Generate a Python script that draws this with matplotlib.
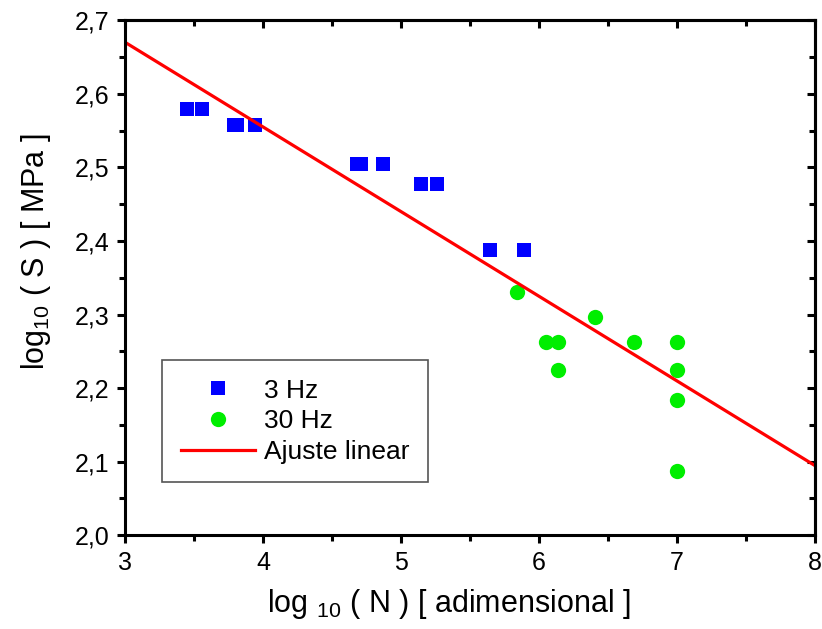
import matplotlib
matplotlib.use("Agg")
import matplotlib.pyplot as plt
from matplotlib.ticker import FuncFormatter, MultipleLocator

plt.rcParams['font.family'] = ['Liberation Sans', 'DejaVu Sans']
plt.rcParams['mathtext.fontset'] = 'custom'
plt.rcParams['mathtext.rm'] = 'Liberation Sans'
plt.rcParams['mathtext.it'] = 'Liberation Sans'

# data
hz3_x = [3.45, 3.56, 3.79, 3.81, 3.94, 4.685, 4.71, 4.87, 5.15, 5.26, 5.65, 5.89]
hz3_y = [2.579, 2.579, 2.557, 2.557, 2.557, 2.505, 2.505, 2.505, 2.477, 2.477, 2.388, 2.388]

hz30_x = [5.84, 6.05, 6.14, 6.14, 6.41, 6.69, 7.0, 7.0, 7.0, 7.0]
hz30_y = [2.330, 2.262, 2.262, 2.224, 2.296, 2.262, 2.262, 2.224, 2.184, 2.088]

fit_x = [3, 8]
fit_y = [2.670, 2.095]

fig = plt.figure(figsize=(8.22, 6.29), dpi=100)
ax = fig.add_axes([0.152, 0.149, 0.839, 0.819])

ax.plot(hz3_x, hz3_y, 's', color='#0000ff', markersize=10.5, markeredgewidth=0, label='3 Hz')
ax.plot(hz30_x, hz30_y, 'o', color='#00ee00', markersize=11, markeredgewidth=0, label='30 Hz')
ax.plot(fit_x, fit_y, '-', color='#ff0000', linewidth=2.3, label='Ajuste linear')

ax.set_xlim(3, 8)
ax.set_ylim(2.0, 2.7)
ax.xaxis.set_major_locator(MultipleLocator(1))
ax.xaxis.set_minor_locator(MultipleLocator(0.5))
ax.yaxis.set_major_locator(MultipleLocator(0.1))
ax.yaxis.set_minor_locator(MultipleLocator(0.05))
ax.yaxis.set_major_formatter(FuncFormatter(lambda v, p: f'{v:.1f}'.replace('.', ',')))

for s in ax.spines.values():
    s.set_linewidth(2.2)

ax.tick_params(which='both', width=2.2, labelsize=18, direction='out',
               top=False, right=False)
ax.tick_params(which='major', length=6, pad=5)
ax.tick_params(which='minor', length=4)

# inward ticks on top and right
axt = ax.secondary_xaxis('top')
axt.xaxis.set_major_locator(MultipleLocator(1))
axt.xaxis.set_minor_locator(MultipleLocator(0.5))
axt.tick_params(which='both', direction='in', width=2.2, labeltop=False)
axt.tick_params(which='major', length=6)
axt.tick_params(which='minor', length=4)
axr = ax.secondary_yaxis('right')
axr.yaxis.set_major_locator(MultipleLocator(0.1))
axr.yaxis.set_minor_locator(MultipleLocator(0.05))
axr.tick_params(which='both', direction='in', width=2.2, labelright=False)
axr.tick_params(which='major', length=6)
axr.tick_params(which='minor', length=4)
for sa in (axt, axr):
    for s in sa.spines.values():
        s.set_linewidth(2.2)

ax.set_xlabel(r'log $_{10}$ ( N ) [ adimensional ]', fontsize=22)
ax.set_ylabel(r'log$_{10}$ ( S ) [ MPa ]', fontsize=22)
ax.xaxis.set_label_coords(0.47, -0.1)
ax.yaxis.set_label_coords(-0.105, 0.55)

leg = ax.legend(loc='lower left', bbox_to_anchor=(0.054, 0.103), borderaxespad=0,
                fontsize=19, fancybox=False, edgecolor='#555555', framealpha=1,
                handlelength=2.8, handletextpad=0.35, borderpad=0.7,
                labelspacing=0.25, markerscale=1.0)
leg.get_frame().set_linewidth(1.2)

fig.savefig('out.png', dpi=100)
